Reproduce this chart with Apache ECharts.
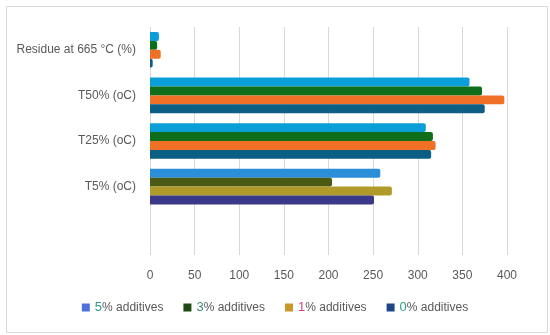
<!DOCTYPE html>
<html>
<head>
<meta charset="utf-8">
<script src="https://cdn.jsdelivr.net/npm/echarts@6/dist/echarts.min.js"></script>
<style>
html,body{margin:0;padding:0;background:#fff;}
#c{width:550px;height:335px;}
</style>
</head>
<body>
<div id="c"></div>
<script>
const categories = ['Residue at 665 °C (%)', 'T50% (oC)', 'T25% (oC)', 'T5% (oC)', ''];
const seriesNames = ['5% additives', '3% additives', '1% additives', '0% additives'];
const add5 = [10, 358, 309, 258, null];
const add3 = [8, 372, 317, 204, null];
const add1 = [12, 397, 320, 271, null];
const add0 = [3, 375, 315, 251, null];
const xTicks = [0, 400, 50];

const barColors = ['#0a9fd8', '#0f6e1a', '#f07026', '#0b5e84'];
const t5Colors = ['#2a8ed8', '#4a5a14', '#b09a2a', '#3a3888'];
const legendColors = ['#4f6fd9', '#1e4a14', '#c8962a', '#1d4785'];
const firstCharColors = ['#2a9d8f', '#3a8a7a', '#e0407a', '#2aa08a'];

function mk(i, vals) {
  return {
    name: seriesNames[i],
    type: 'bar',
    barGap: '0%',
    barCategoryGap: '22%',
    data: vals.map((v, j) => j === 3 ? {value: v, itemStyle: {color: t5Colors[i]}} : v),
    itemStyle: {color: barColors[i], borderRadius: [0, 2, 2, 0]}
  };
}

const chart = echarts.init(document.getElementById('c'), null, {renderer: 'canvas'});
chart.setOption({
  animation: false,
  textStyle: {fontFamily: 'Liberation Sans'},
  graphic: [{
    type: 'rect', left: 4, top: 4, shape: {width: 541, height: 326},
    style: {fill: 'none', stroke: '#d9d9d9', lineWidth: 1}
  }],
  grid: {left: 150, right: 43, top: 27, bottom: 80, containLabel: false},
  xAxis: {
    type: 'value', min: xTicks[0], max: xTicks[1], interval: xTicks[2],
    axisLine: {show: false}, axisTick: {show: false},
    axisLabel: {color: '#595959', fontSize: 12, margin: 15},
    splitLine: {lineStyle: {color: '#d9d9d9'}}
  },
  yAxis: {
    type: 'category', data: categories, inverse: true,
    axisLine: {show: false}, axisTick: {show: false},
    axisLabel: {color: '#595959', fontSize: 12, margin: 14}
  },
  legend: {
    bottom: 16, left: 'center', itemWidth: 8, itemHeight: 8, itemGap: 20,
    icon: 'rect',
    data: seriesNames.map((n, i) => ({name: n, itemStyle: {color: legendColors[i]}})),
    formatter: function (name) {
      const i = seriesNames.indexOf(name);
      return '{a' + i + '|' + name.charAt(0) + '}{b|' + name.slice(1) + '}';
    },
    textStyle: {
      color: '#595959', fontSize: 12,
      rich: {
        a0: {color: firstCharColors[0], fontSize: 13},
        a1: {color: firstCharColors[1], fontSize: 13},
        a2: {color: firstCharColors[2], fontSize: 13},
        a3: {color: firstCharColors[3], fontSize: 13},
        b: {color: '#595959', fontSize: 12}
      }
    }
  },
  series: [mk(0, add5), mk(1, add3), mk(2, add1), mk(3, add0)]
});
</script>
</body>
</html>
